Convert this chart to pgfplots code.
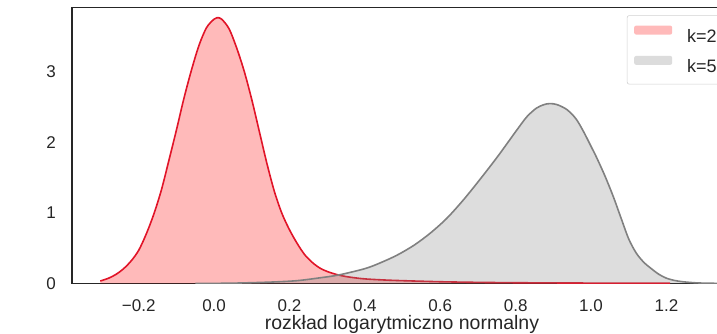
\documentclass[border=0pt]{standalone}
\usepackage{pgfplots}
\pgfplotsset{compat=1.18}
\usepackage{pgfplotstable}
\usepackage{fontspec}
\setmainfont{Liberation Sans}
\definecolor{kred}{RGB}{225,20,40}
\definecolor{kgray}{RGB}{128,128,128}
\definecolor{spine}{RGB}{38,38,38}

\pgfplotstableread{
x y
-0.302 0.035
-0.28 0.075
-0.26 0.13
-0.24 0.21
-0.22 0.32
-0.20 0.47
-0.18 0.70
-0.16 0.98
-0.14 1.32
-0.12 1.74
-0.10 2.17
-0.08 2.62
-0.06 3.02
-0.04 3.37
-0.02 3.62
0.00 3.74
0.008 3.76
0.02 3.74
0.04 3.60
0.06 3.33
0.08 3.00
0.10 2.60
0.12 2.15
0.14 1.70
0.16 1.30
0.18 0.99
0.20 0.76
0.22 0.57
0.24 0.41
0.26 0.30
0.28 0.22
0.30 0.17
0.33 0.12
0.36 0.09
0.40 0.065
0.45 0.05
0.50 0.04
0.60 0.025
0.70 0.016
0.80 0.011
0.90 0.008
1.00 0.006
1.10 0.005
1.21 0.003
}\redtab

\pgfplotstableread{
x y
-0.05 0.0
0.05 0.005
0.15 0.02
0.22 0.04
0.28 0.08
0.33 0.12
0.40 0.21
0.44 0.29
0.485 0.40
0.53 0.54
0.573 0.71
0.617 0.92
0.661 1.18
0.705 1.47
0.75 1.78
0.78 2.00
0.803 2.17
0.83 2.36
0.855 2.48
0.875 2.53
0.891 2.545
0.91 2.53
0.936 2.46
0.96 2.33
0.98 2.15
1.00 1.94
1.015 1.78
1.037 1.52
1.059 1.23
1.08 0.92
1.10 0.63
1.12 0.43
1.14 0.30
1.16 0.21
1.18 0.13
1.20 0.075
1.22 0.045
1.24 0.027
1.27 0.012
1.30 0.005
1.34 0.002
}\graytab

\begin{document}
\begin{tikzpicture}
\begin{axis}[name=ax, scale only axis, width=660pt, height=276.2pt,
  xmin=-0.377, xmax=1.374, ymin=0, ymax=3.907,
  axis line style={spine, line width=1.5pt},
  major tick length=0pt,
  xtick={-0.2,0,0.2,0.4,0.6,0.8,1.0,1.2},
  xticklabels={−0.2,0.0,0.2,0.4,0.6,0.8,1.0,1.2},
  ytick={0,1,2,3}, yticklabels={0,1,2,3},
  ticklabel style={font=\fontsize{17}{17}\selectfont, text=spine},
  xticklabel style={anchor=base, yshift=-28.5pt, inner sep=0pt},
  yticklabel style={anchor=east, xshift=-16pt, inner sep=0pt},
  xlabel={rozkład logarytmiczno normalny},
  xlabel style={at={(axis description cs:0.5,0)}, anchor=base, yshift=-46.2pt, inner sep=0pt, font=\fontsize{19.5}{19.5}\selectfont, text=spine},
  legend style={at={(1,1)}, anchor=north east, xshift=-8pt, yshift=-8pt, draw=black!18, line width=0.6pt, rounded corners=2pt, font=\fontsize{18}{18}\selectfont, text=spine, inner xsep=7pt, inner ysep=10pt, row sep=12pt, nodes={inner sep=0pt}, /tikz/every odd column/.append style={column sep=15pt}},
  legend cell align=left,
  legend image code/.code={\fill[#1, draw=none] (0pt,2pt) rectangle (38pt,11pt);},
]
\addplot[fill=red, fill opacity=0.27, draw=none, smooth] table[x=x,y=y]{\redtab} \closedcycle;
\addlegendentry{k=2}
\addplot[kred, line width=1.6pt, smooth, forget plot] table[x=x,y=y]{\redtab};
\addplot[fill=kgray, fill opacity=0.27, draw=none, smooth] table[x=x,y=y]{\graytab} \closedcycle;
\addlegendentry{k=5}
\addplot[kgray, line width=1.6pt, smooth, forget plot] table[x=x,y=y]{\graytab};
\end{axis}
\pgfresetboundingbox
\useasboundingbox ([xshift=-72pt,yshift=-50.5pt]ax.south west) rectangle ([xshift=645pt,yshift=7.3pt]ax.north west);
\end{tikzpicture}
\end{document}
